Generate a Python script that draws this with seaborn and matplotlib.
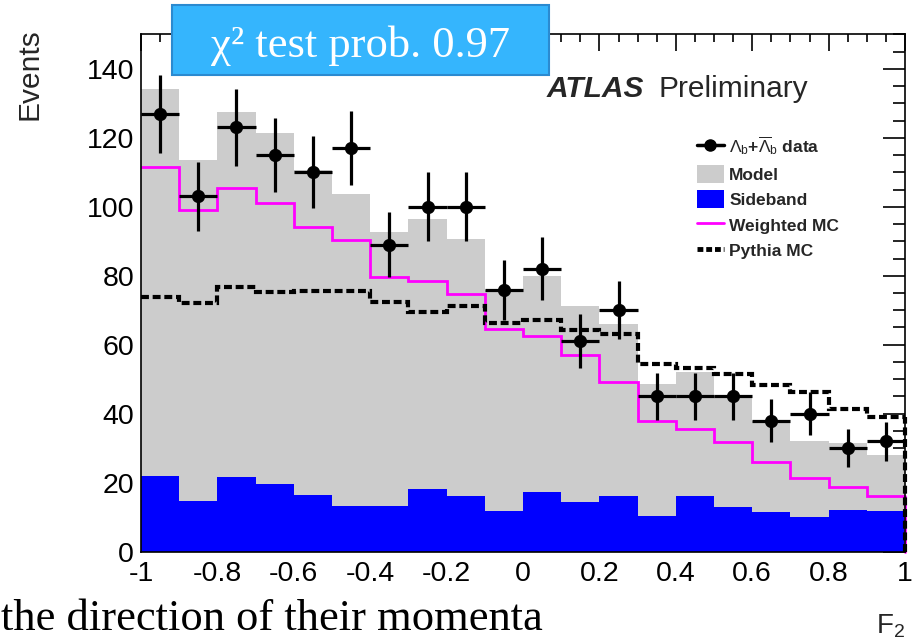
import numpy as np
import pandas as pd
import matplotlib
matplotlib.use("Agg")
import matplotlib.pyplot as plt
import seaborn as sns
from matplotlib.patches import Rectangle, Patch
from matplotlib.lines import Line2D
from matplotlib.ticker import MultipleLocator

# ---- histogram content: 20 bins in F2 from -1 to 1 ----
bin_edges = np.round(np.linspace(-1.0, 1.0, 21), 2)

data_counts = [127, 103, 123, 115, 110, 117, 89, 100, 100, 76,
               82, 61, 70, 45, 45, 45, 38, 40, 30, 32]
data_errors = [11.3, 10.1, 11.1, 10.7, 10.5, 10.8, 9.4, 10.0, 10.0, 8.7,
               9.1, 7.8, 8.4, 6.7, 6.7, 6.7, 6.2, 6.3, 5.5, 5.7]
model = [134.0, 113.7, 127.4, 121.3, 110.6, 103.6, 92.8, 96.5, 90.6, 76.0,
         80.0, 71.3, 65.9, 48.6, 52.0, 45.0, 37.8, 32.0, 31.5, 28.0]
sideband = [22.0, 14.8, 21.7, 19.7, 16.3, 13.2, 13.2, 18.1, 16.1, 11.9,
            17.2, 14.3, 16.2, 10.3, 16.2, 12.9, 11.4, 10.2, 12.2, 11.9]
weighted_mc = [111.4, 99.0, 105.3, 101.2, 94.2, 90.3, 79.7, 78.5, 74.6, 64.5,
               62.5, 56.9, 49.3, 37.9, 35.5, 31.8, 25.9, 21.5, 18.7, 16.1]
pythia_mc = [73.8, 72.2, 76.7, 75.3, 75.7, 75.7, 72.4, 69.4, 71.2, 66.2,
             67.2, 64.3, 63.1, 54.4, 53.3, 51.5, 48.2, 46.2, 41.3, 39.0]

x_ticks = [-1.0, -0.8, -0.6, -0.4, -0.2, 0.0, 0.2, 0.4, 0.6, 0.8, 1.0]
x_tick_labels = ["-1", "-0.8", "-0.6", "-0.4", "-0.2", "0",
                 "0.2", "0.4", "0.6", "0.8", "1"]
y_ticks = [0, 20, 40, 60, 80, 100, 120, 140]

legend_labels = [r"$\Lambda_{b}$+$\overline{\Lambda}_{b}$ data", "Model",
                 "Sideband", "Weighted MC", "Pythia MC"]

# ---- style ----
sns.set_style("white")
plt.rcParams["font.family"] = ["Liberation Sans", "DejaVu Sans"]
plt.rcParams["mathtext.fontset"] = "custom"
plt.rcParams["mathtext.rm"] = "Liberation Sans"
plt.rcParams["mathtext.it"] = "Liberation Sans:italic"
plt.rcParams["mathtext.bf"] = "Liberation Sans:bold"
plt.rcParams["mathtext.default"] = "rm"

GREY = "#cccccc"
BLUE = "#0000ff"
MAGENTA = "#ff00ff"

bin_centers = (bin_edges[:-1] + bin_edges[1:]) / 2
half_width = (bin_edges[1] - bin_edges[0]) / 2
df = pd.DataFrame({"F2": bin_centers, "model": model, "sideband": sideband})
bins_list = [float(b) for b in bin_edges]

W, H = 913, 641
fig = plt.figure(figsize=(W / 100, H / 100), dpi=100)
ax = fig.add_axes([141 / W, 1 - 551.7 / H, 764 / W, 517.4 / H])

# filled histograms
sns.histplot(data=df, x="F2", weights="model", bins=bins_list, element="step",
             fill=True, color=GREY, alpha=1, linewidth=0, ax=ax, zorder=1)
sns.histplot(data=df, x="F2", weights="sideband", bins=bins_list, element="step",
             fill=True, color=BLUE, alpha=1, linewidth=0, ax=ax, zorder=2)

# outline histograms (closed on the right edge down to zero)
ax.stairs(weighted_mc, bin_edges, baseline=None, color=MAGENTA, lw=2.0, zorder=3)
ax.plot([bin_edges[-1]] * 2, [0, weighted_mc[-1]], color=MAGENTA, lw=2.0, zorder=3,
        clip_on=False)
dash = (0, (1.9, 0.9))
ax.stairs(pythia_mc, bin_edges, baseline=None, color="black", lw=3.0,
          linestyle=dash, zorder=3)
ax.plot([bin_edges[-1]] * 2, [0, pythia_mc[-1]], color="black", lw=3.0,
        linestyle=dash, zorder=3, clip_on=False)

# data points with statistical errors
ax.errorbar(bin_centers, data_counts, yerr=data_errors, xerr=half_width,
            fmt="o", color="black", ms=8.5, elinewidth=2.3, capsize=0, zorder=5)

ax.set_xlim(-1, 1)
ax.set_ylim(0, 150)
ax.set_xticks(x_ticks)
ax.set_xticklabels(x_tick_labels)
ax.set_yticks(y_ticks)
ax.xaxis.set_minor_locator(MultipleLocator(0.05))
ax.yaxis.set_minor_locator(MultipleLocator(5))
for lab in ax.get_xticklabels() + ax.get_yticklabels():
    lab.set_fontsize(20.5)
ax.tick_params(axis="both", which="both", direction="in", top=True, right=True,
               colors="black")
ax.tick_params(axis="y", which="major", length=16, width=1.2, pad=5)
ax.tick_params(axis="y", which="minor", length=8.5, width=1.2)
ax.tick_params(axis="x", which="major", length=12, width=1.2, pad=7)
ax.tick_params(axis="x", which="minor", length=6, width=1.2)
for sp in ax.spines.values():
    sp.set_color("black")
    sp.set_linewidth(1.2)
    sp.set_zorder(6)

ax.set_ylabel("Events", fontsize=21.5)
ax.yaxis.set_label_coords(-0.128, 1.012)
ax.yaxis.label.set_ha("right")
ax.yaxis.label.set_va("bottom")
ax.set_xlabel(r"F$_{2}$", fontsize=20)
ax.xaxis.set_label_coords(1.0, -0.117)
ax.xaxis.label.set_ha("right")
ax.xaxis.label.set_va("top")

# legend
handles = [
    Line2D([], [], color="black", marker="o", ms=8, lw=2.5),
    Patch(facecolor=GREY, edgecolor="none"),
    Patch(facecolor=BLUE, edgecolor="none"),
    Line2D([], [], color=MAGENTA, lw=2.0),
    Line2D([], [], color="black", lw=3.5, linestyle=(0, (1.2, 0.6))),
]
leg = ax.legend(handles, legend_labels, loc="upper left",
                bbox_to_anchor=(697 / W, 1 - 134 / H), bbox_transform=fig.transFigure,
                frameon=False, borderpad=0, borderaxespad=0, handlelength=1.55,
                handleheight=1.2, handletextpad=0.3, labelspacing=0.45,
                prop={"family": "Liberation Sans", "weight": "bold", "size": 12.5})

# experiment tag
fig.text(547 / W, 1 - 96.6 / H, "ATLAS", fontsize=21.5, fontweight="bold",
         fontstyle="italic", va="baseline", ha="left")
fig.text(658 / W, 1 - 96.6 / H, "Preliminary", fontsize=21.5, va="baseline", ha="left")

# chi-square annotation box
box = Rectangle((172 / W, 1 - 75 / H), (549 - 172) / W, 70 / H,
                transform=fig.transFigure, facecolor="#35b5fd",
                edgecolor="#2b8ad0", lw=1.5, zorder=10)
fig.add_artist(box)
fig.text(360 / W, 1 - 57 / H, "\u03c7\u00b2 test prob. 0.97", color="white",
         fontsize=32, family="Liberation Serif", ha="center", va="baseline",
         zorder=11)

# caption line below the plot
fig.text(1 / W, 1 - 630 / H, "the direction of their momenta", fontsize=32,
         family="Liberation Serif", ha="left", va="baseline", color="black")

fig.savefig("out.png", dpi=100)
